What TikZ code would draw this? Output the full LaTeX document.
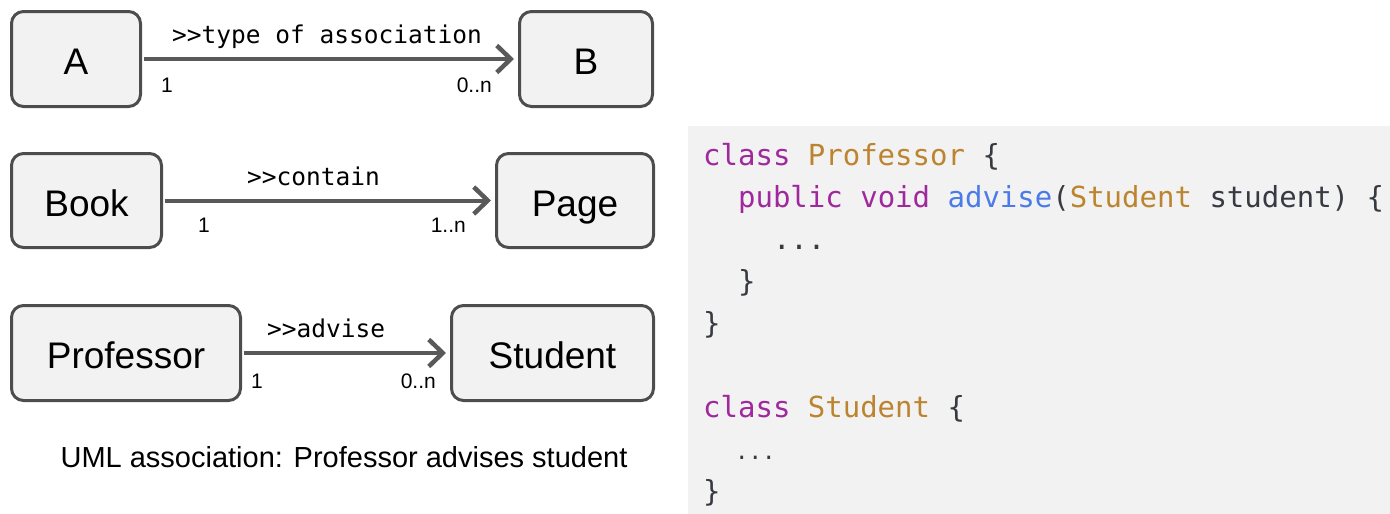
\documentclass[tikz,border=0pt]{standalone}
\usepackage{fontspec}
\setmainfont{Liberation Sans}
\newfontfamily\codefont{DejaVu Sans Mono}
\usetikzlibrary{arrows.meta}
\definecolor{boxfill}{HTML}{F2F2F2}
\definecolor{boxline}{HTML}{4D4D4D}
\definecolor{arrowcol}{HTML}{595959}
\definecolor{codebg}{HTML}{F2F2F2}
\definecolor{kw}{HTML}{A0289D}
\definecolor{ty}{HTML}{BD8430}
\definecolor{fn}{HTML}{4A7BE8}
\definecolor{tx}{HTML}{383A42}
\begin{document}
\begin{tikzpicture}[x=1pt,y=-1pt,
  cls/.style={draw=boxline, line width=3pt, fill=boxfill, rounded corners=12pt, inner sep=0pt,
    text height=31pt, text depth=0pt, font=\fontsize{37}{44}\selectfont, minimum height=95pt},
  assoc/.style={draw=arrowcol, line width=4pt, shorten <=1.5pt, shorten >=4pt,
    -{Straight Barb[length=14pt,width=27pt,line width=4.5pt]}},
  rolelbl/.style={inner sep=0pt, font=\codefont\fontsize{24.5}{28}\selectfont, anchor=base west},
  multl/.style={inner sep=0pt, font=\fontsize{21}{24}\selectfont, anchor=base west},
  multr/.style={inner sep=0pt, font=\fontsize{21}{24}\selectfont, anchor=base east},
  code/.style={inner sep=0pt, font=\codefont\fontsize{29}{34}\selectfont, anchor=base west},
  smallcode/.style={inner sep=0pt, font=\codefont\fontsize{22.4}{26}\selectfont, anchor=base west},
]
\useasboundingbox (0,0) rectangle (1390,514);

% code panel background
\fill[codebg] (688,126) rectangle (1390,514);

% class boxes
\node[cls, minimum width=129pt] (A) at (76,59) {A};
\node[cls, minimum width=133pt] (B) at (586,59) {B};
\node[cls, minimum width=150pt, minimum height=94pt] (Book) at (86.5,200.5) {Book};
\node[cls, minimum width=157pt, minimum height=94pt] (Page) at (575,200.5) {Page};
\node[cls, minimum width=229pt] (Prof) at (126,353) {Professor};
\node[cls, minimum width=202pt] (Stud) at (552.5,353) {Student};

% associations
\draw[assoc] (A) -- (B);
\draw[assoc] (Book) -- (Page);
\draw[assoc] (Prof) -- (Stud);

% association labels
\node[rolelbl] (l1) at (172,43) {>{}>type of association};
\node[multl] (m1a) at (161,92) {1};
\node[multr] (m1b) at (492,92) {0..n};

\node[rolelbl] (l2) at (247,185) {>{}>contain};
\node[multl] (m2a) at (198,232) {1};
\node[multr] (m2b) at (466,232) {1..n};

\node[rolelbl] (l3) at (267,337) {>{}>advise};
\node[multl] (m3a) at (251,388) {1};
\node[multr] (m3b) at (436,388) {0..n};

% caption
\node[inner sep=0pt, anchor=base, font=\fontsize{29}{34}\selectfont] (cap) at (344,467)
  {UML association: Professor advises student};

% code
\node[code, text=kw] (c1a) at (703,165) {class};
\node[code, text=ty] (c1b) at (807.7,165) {Professor};
\node[code, text=tx] (c1c) at (982.3,165) {\{};

\node[code, text=kw] (c2a) at (737.9,207) {public};
\node[code, text=kw] (c2b) at (860.1,207) {void};
\node[code, text=fn] (c2c) at (947.4,207) {advise};
\node[code, text=tx] (c2d) at (1052.2,207) {(};
\node[code, text=ty] (c2e) at (1069.6,207) {Student};
\node[code, text=tx] (c2f) at (1209.3,207) {student)};
\node[code, text=tx] (c2g) at (1366.4,207) {\{};

\node[code, text=tx] (c3) at (772.8,249) {...};
\node[code, text=tx] (c4) at (737.9,291) {\}};
\node[code, text=tx] (c5) at (703,333) {\}};

\node[code, text=kw] (c7a) at (703,417) {class};
\node[code, text=ty] (c7b) at (807.7,417) {Student};
\node[code, text=tx] (c7c) at (947.4,417) {\{};

\node[smallcode, text=tx] (c8) at (735,459) {...};
\node[code, text=tx] (c9) at (703,501) {\}};
\end{tikzpicture}
\end{document}
